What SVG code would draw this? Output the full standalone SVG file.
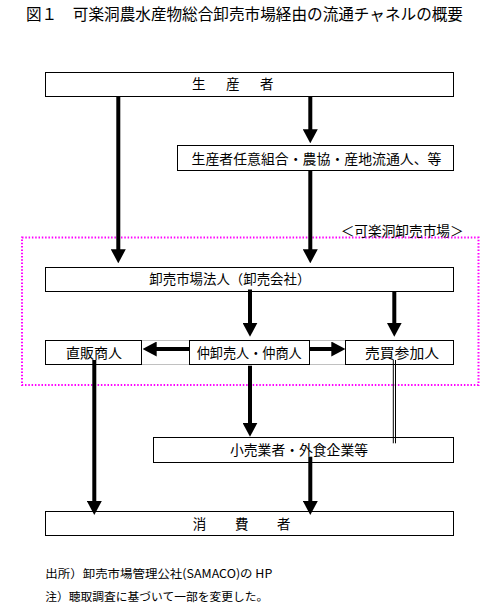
<svg xmlns="http://www.w3.org/2000/svg" width="496" height="610" viewBox="0 0 496 610">
<style>
text{font-family:"Noto Sans CJK JP","Noto Sans CJK SC",sans-serif;fill:#000}
.box{fill:#fff;stroke:#000;stroke-width:1}
.t{font-size:13.5px}
.arr{stroke:#000;stroke-width:4;fill:none;marker-end:url(#ah)}
.thin{stroke:#000;stroke-width:1;fill:none}
.grey{stroke:#c0c0c0;stroke-width:1;fill:none}
</style>
<defs>
<marker id="ah" markerUnits="userSpaceOnUse" markerWidth="14" markerHeight="15" refX="4" refY="7.5" orient="auto" viewBox="0 0 14 15">
<path d="M0,0 L14,7.5 L0,15 z" fill="#000"/>
</marker>
</defs>
<rect width="496" height="610" fill="#fff"/>
<text x="26" y="20" font-size="15.6" textLength="437" lengthAdjust="spacingAndGlyphs">図１　可楽洞農水産物総合卸売市場経由の流通チャネルの概要</text>

<g id="market-area">
<rect x="22" y="237.5" width="456.5" height="147.5" fill="none" stroke="#ff00ff" stroke-width="2" stroke-dasharray="1.5 1.8"/>
<text x="340.7" y="235.5" font-size="13.7" textLength="123" lengthAdjust="spacingAndGlyphs">＜可楽洞卸売市場＞</text>
</g>

<g id="grey-lines">
<line class="grey" x1="141.5" y1="340.5" x2="189.5" y2="340.5"/>
<line class="grey" x1="141.5" y1="364.5" x2="189.5" y2="364.5"/>
<line class="grey" x1="309.5" y1="340.5" x2="345.5" y2="340.5"/>
<line class="grey" x1="309.5" y1="364.5" x2="345.5" y2="364.5"/>
</g>

<g id="producer">
<rect class="box" x="45.5" y="72.5" width="408" height="24"/>
<text class="t" x="192 226 260" y="89">生産者</text>
</g>
<g id="coop">
<rect class="box" x="177.5" y="145.5" width="276" height="25"/>
<text class="t" x="191.5" y="163.5" textLength="250" lengthAdjust="spacingAndGlyphs">生産者任意組合・農協・産地流通人、等</text>
</g>
<g id="wholesaler">
<rect class="box" x="45.5" y="267.5" width="408" height="24"/>
<text class="t" x="149.3" y="284.3" textLength="161" lengthAdjust="spacingAndGlyphs">卸売市場法人（卸売会社）</text>
</g>
<g id="direct-merchant">
<rect class="box" x="45.5" y="340.5" width="96" height="24"/>
<text class="t" x="66" y="357.5" textLength="56" lengthAdjust="spacingAndGlyphs">直販商人</text>
</g>
<g id="middleman">
<rect class="box" x="189.5" y="340.5" width="120" height="24"/>
<text class="t" x="196.7" y="357.5" textLength="105" lengthAdjust="spacingAndGlyphs">仲卸売人・仲商人</text>
</g>
<g id="participant">
<rect class="box" x="345.5" y="340.5" width="108" height="24"/>
<text class="t" x="365" y="357.5" textLength="74" lengthAdjust="spacingAndGlyphs">売買参加人</text>
</g>
<g id="retail">
<rect class="box" x="153.5" y="437.5" width="300" height="25"/>
<text class="t" x="230" y="455" textLength="138" lengthAdjust="spacingAndGlyphs">小売業者・外食企業等</text>
</g>
<g id="consumer">
<rect class="box" x="45.5" y="511.5" width="408" height="24"/>
<text class="t" x="192.7 235 277" y="528.5">消費者</text>
</g>

<g id="connectors">
<line class="arr" x1="118.3" y1="96.5" x2="118.3" y2="253.3"/>
<line class="arr" x1="310.3" y1="96.5" x2="310.3" y2="133.3"/>
<line class="arr" x1="310.3" y1="170.5" x2="310.3" y2="253.3"/>
<line class="arr" x1="250" y1="289.5" x2="250" y2="326.7"/>
<line class="arr" x1="394.3" y1="291" x2="394.3" y2="326.7"/>
<line class="arr" x1="189.5" y1="349" x2="152.7" y2="349"/>
<line class="arr" x1="309.5" y1="349" x2="335.3" y2="349"/>
<line class="arr" x1="94.3" y1="360" x2="94.3" y2="505"/>
<line class="arr" x1="250" y1="365.7" x2="250" y2="426.7"/>
<line class="arr" x1="310.3" y1="456.7" x2="310.3" y2="505"/>
<line class="thin" x1="393.3" y1="360" x2="393.3" y2="443.3"/>
<line class="thin" x1="395.5" y1="360" x2="395.5" y2="443.3"/>
</g>

<g id="notes">
<text x="45.3" y="577.5" font-size="11.8" textLength="227" lengthAdjust="spacingAndGlyphs">出所）卸売市場管理公社(SAMACO)の HP</text>
<text x="45.3" y="600.5" font-size="11.8" textLength="223" lengthAdjust="spacingAndGlyphs">注）聴取調査に基づいて一部を変更した。</text>
</g>
</svg>
